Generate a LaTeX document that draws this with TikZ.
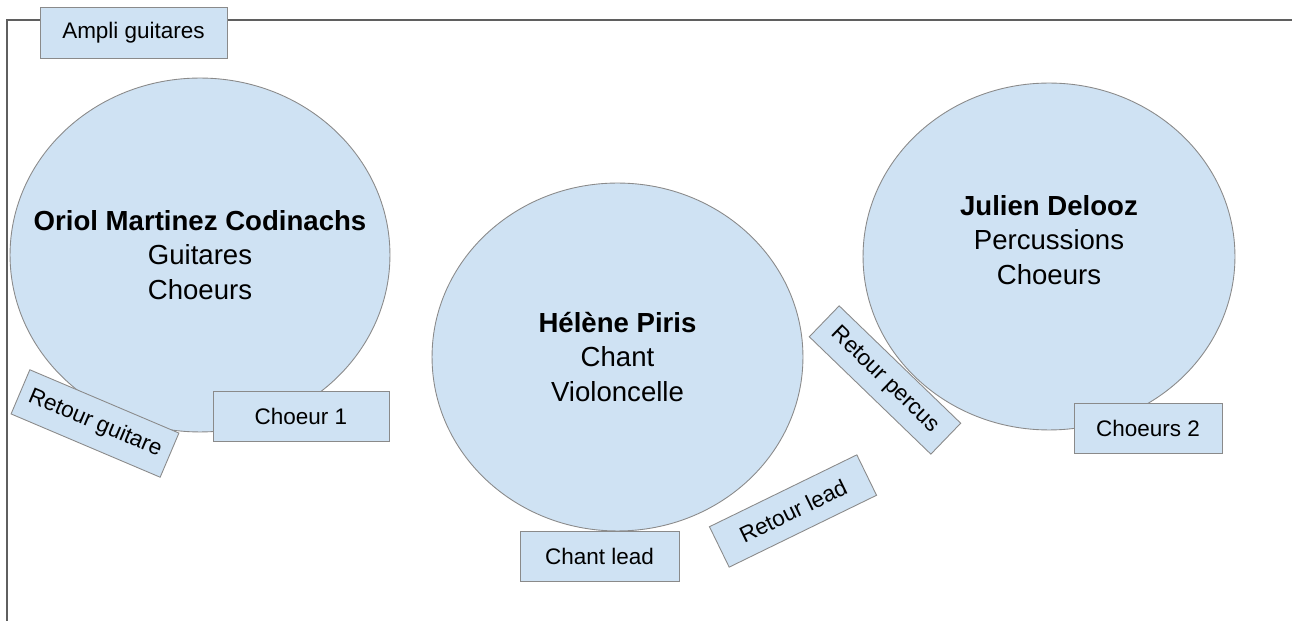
\documentclass[tikz,border=0pt]{standalone}
\usepackage{fontspec}
\setmainfont{Liberation Sans}
\usepackage{tikz}
\usetikzlibrary{shapes.geometric}
\definecolor{stageblue}{HTML}{CFE2F3}
\definecolor{edgegray}{HTML}{8A8A8A}
\definecolor{framegray}{HTML}{5F5F5F}

\begin{document}
\begin{tikzpicture}[x=0.02cm, y=-0.02cm]
	%defines
	\tikzstyle{musician} = [ellipse, fill=stageblue, draw=edgegray, line width=0.5pt, inner sep=0pt]
	\tikzstyle{musicianText} = [align=center, font=\fontsize{15.7}{19.8}\selectfont]
	\tikzstyle{gear} = [rectangle, fill=stageblue, draw=edgegray, line width=0.5pt, minimum height=1cm, inner sep=0pt, text centered, font=\fontsize{12.8}{15}\selectfont]
	\tikzstyle{frameLine} = [draw=framegray, line width=0.7pt]
	\useasboundingbox (0,0) rectangle (1292,621);
	%stage
	\draw [frameLine] (7,621) -- (7,20) -- (1292,20);
	\node (ampli) [gear, minimum width=3.74cm, minimum height=1.02cm] at (133.5,32.5) {Ampli guitares};
	%musicians
	\node (oriol) [musician, minimum width=7.6cm, minimum height=7.08cm] at (200,255) {};
	\node (oriolText) [musicianText] at (oriol.center) {\textbf{Oriol Martinez Codinachs}\\Guitares\\Choeurs};
	\node (helene) [musician, minimum width=7.42cm, minimum height=6.96cm] at (617.5,357) {};
	\node (heleneText) [musicianText] at (helene.center) {\textbf{Hélène Piris}\\Chant\\Violoncelle};
	\node (julien) [musician, minimum width=7.44cm, minimum height=6.94cm] at (1049,256.5) {};
	\node (julienText) [musicianText] at (1049,240) {\textbf{Julien Delooz}\\Percussions\\Choeurs};
	%gear
	\node (retourGuitare) [gear, minimum width=3.24cm, minimum height=0.96cm, rotate=-23] at (95,423.5) {Retour guitare};
	\node (choeur1) [gear, minimum width=3.52cm] at (301,416) {Choeur 1};
	\node (chantLead) [gear, minimum width=3.18cm] at (599.5,556) {Chant lead};
	\node (retourLead) [gear, minimum width=3.28cm, minimum height=0.9cm, rotate=26] at (793,511) {Retour lead};
	\node (retourPercus) [gear, minimum width=3.38cm, minimum height=0.86cm, rotate=-44] at (885,380) {Retour percus};
	\node (choeurs2) [gear, minimum width=2.96cm] at (1148,428) {Choeurs 2};
\end{tikzpicture}
\end{document}
